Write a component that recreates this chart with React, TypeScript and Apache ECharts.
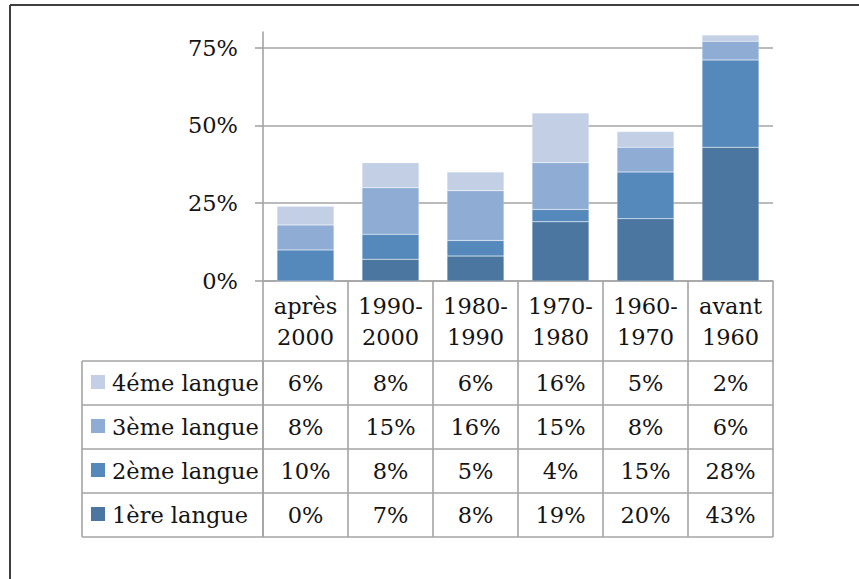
import React, { useEffect, useRef } from 'react';
import * as echarts from 'echarts';

const categories = ['après\n2000', '1990-\n2000', '1980-\n1990', '1970-\n1980', '1960-\n1970', 'avant\n1960'];
const seriesNames = ['1ère langue', '2ème langue', '3ème langue', '4éme langue'];
const langue1 = [0, 7, 8, 19, 20, 43];
const langue2 = [10, 8, 5, 4, 15, 28];
const langue3 = [8, 15, 16, 15, 8, 6];
const langue4 = [6, 8, 6, 16, 5, 2];
const seriesValues = [langue1, langue2, langue3, langue4];
const yMax = 80;
const yInterval = 25;

const colors = ['#4a76a0', '#5589bc', '#8fadd4', '#c2cfe5'];
const FONT = "'DejaVu Serif', serif";
const FS = 22.5;
const TEXT = '#141414';
const GRID = '#a4a4a4';

export default function App() {
  const ref = useRef<HTMLDivElement>(null);
  useEffect(() => {
    document.body.style.margin = '0';
    if (!ref.current) return;
    const chart = echarts.init(ref.current, null, { renderer: 'svg' });
    const gridTop = 32;
    const gridBottom = 298;
    const gridLeft = 263;
    const gridRight = 86;
    const H = 579;
    const W = 859;
    chart.setOption({
      animation: false,
      backgroundColor: '#ffffff',
      grid: { left: gridLeft, right: gridRight, top: gridTop, bottom: gridBottom, containLabel: false },
      xAxis: {
        type: 'category',
        data: categories,
        boundaryGap: true,
        axisLine: { show: true, lineStyle: { color: GRID, width: 1.6 } },
        axisTick: { show: true, interval: 0, length: 256, lineStyle: { color: GRID, width: 1.6 } },
        axisLabel: { interval: 0, fontFamily: FONT, fontSize: FS, color: TEXT, lineHeight: 31, margin: 9 },
        splitLine: { show: false },
      },
      yAxis: {
        type: 'value',
        min: 0,
        max: yMax,
        interval: yInterval,
        axisLine: { show: true, lineStyle: { color: GRID, width: 1.6 } },
        axisTick: { show: true, length: 8, lineStyle: { color: GRID, width: 1.6 } },
        axisLabel: {
          fontFamily: FONT, fontSize: FS, color: TEXT, margin: 25,
          showMaxLabel: false,
          formatter: (v: number) => (v % yInterval === 0 ? `${v}%` : ''),
        },
        splitLine: { show: true, showMaxLine: false, lineStyle: { color: GRID, width: 1.6 } },
      },
      series: seriesValues.map((vals, i) => ({
        name: seriesNames[i],
        type: 'bar',
        stack: 'total',
        data: vals,
        barCategoryGap: '33%',
        itemStyle: { color: colors[i], borderColor: 'rgba(255,255,255,0.35)', borderWidth: 0.5 },
      })),
    });

    // table built from the same arrays
    const rowBounds = [361, 405, 449, 493, 537];
    const tableLeft = 82;
    const tableRight = W - gridRight;
    const g: any[] = [];
    g.push({ type: 'line', shape: { x1: 10, y1: 5, x2: W, y2: 5 }, style: { stroke: '#3f3f3f', lineWidth: 2 }, z: 100 });
    g.push({ type: 'line', shape: { x1: 10, y1: 5, x2: 10, y2: H }, style: { stroke: '#3f3f3f', lineWidth: 2 }, z: 100 });
    rowBounds.forEach((y) => {
      g.push({ type: 'line', shape: { x1: tableLeft, y1: y, x2: tableRight, y2: y }, style: { stroke: GRID, lineWidth: 1.6 }, z: 100 });
    });
    g.push({ type: 'line', shape: { x1: tableLeft, y1: rowBounds[0], x2: tableLeft, y2: rowBounds[4] }, style: { stroke: GRID, lineWidth: 1.6 }, z: 100 });
    g.push({ type: 'line', shape: { x1: gridLeft, y1: rowBounds[0], x2: gridLeft, y2: rowBounds[4] }, style: { stroke: GRID, lineWidth: 1.6 }, z: 100 });

    const order = [3, 2, 1, 0];
    order.forEach((si, r) => {
      const cy = (rowBounds[r] + rowBounds[r + 1]) / 2;
      g.push({ type: 'rect', shape: { x: 91, y: cy - 8, width: 14, height: 14 }, style: { fill: colors[si] }, z: 100 });
      g.push({
        type: 'text', x: 112, y: cy,
        style: { text: seriesNames[si], fontFamily: FONT, fontSize: FS, fill: TEXT, align: 'left', verticalAlign: 'middle' }, z: 100,
      });
      seriesValues[si].forEach((v, ci) => {
        const cx = chart.convertToPixel({ xAxisIndex: 0 }, categories[ci]) as number;
        g.push({
          type: 'text', x: cx, y: cy,
          style: { text: `${v}%`, fontFamily: FONT, fontSize: FS, fill: TEXT, align: 'center', verticalAlign: 'middle' }, z: 100,
        });
      });
    });
    chart.setOption({ graphic: g });
    return () => chart.dispose();
  }, []);
  return <div ref={ref} style={{ width: 859, height: 579 }} />;
}
